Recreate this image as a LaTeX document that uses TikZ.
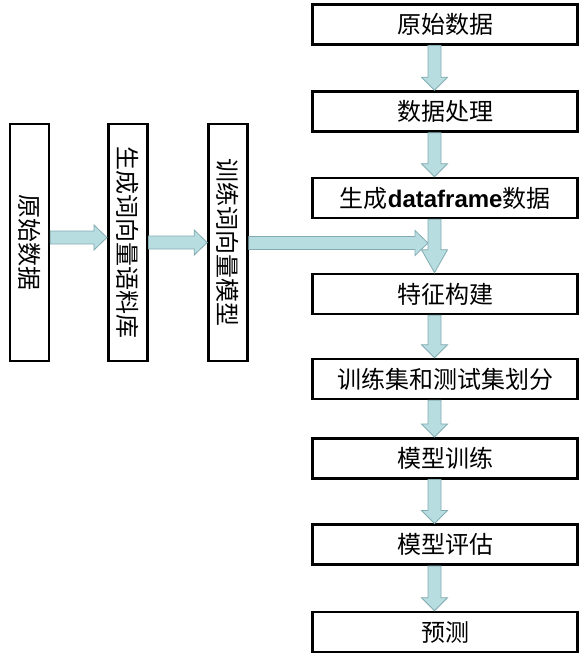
\documentclass[tikz,border=0pt]{standalone}
\usepackage{fontspec}
\setmainfont{Noto Sans CJK SC}
\newfontfamily\latinbold{Liberation Sans}
\usetikzlibrary{calc}
\definecolor{arrowfill}{RGB}{183,221,224}
\definecolor{arrowedge}{RGB}{130,172,178}

% vertical block arrow from the bottom of #1 to the top of #2, head length #3
\newcommand\vblock[3]{%
  \coordinate (vs) at (#1.south -| spine);
  \coordinate (ve) at (#2.north -| spine);
  \draw[blockarrow] ($(vs)+(-6.5,0)$) -- ($(vs)+(6.5,0)$) -- ($(ve)+(6.5,-#3)$)
    -- ($(ve)+(13,-#3)$) -- (ve) -- ($(ve)+(-13,-#3)$) -- ($(ve)+(-6.5,-#3)$) -- cycle;
}
% horizontal block arrow between two named points
\newcommand\hblock[2]{%
  \draw[blockarrow] ($(#1)+(0,-6.5)$) -- ($(#2)+(-13,-6.5)$) -- ($(#2)+(-13,-12.5)$)
    -- (#2) -- ($(#2)+(-13,12.5)$) -- ($(#2)+(-13,6.5)$) -- ($(#1)+(0,6.5)$) -- cycle;
}

\tikzset{
  flowbox/.style={draw=black, line width=2.6pt, fill=white, minimum width=265pt,
    minimum height=40pt, inner sep=0pt, font=\fontsize{24pt}{28pt}\selectfont},
  sidebox/.style={draw=black, line width=2.6pt, fill=white, minimum height=39pt,
    minimum width=237pt, inner sep=0pt, rotate=-90,
    font=\fontsize{24pt}{28pt}\selectfont},
  blockarrow/.style={fill=arrowfill, draw=arrowedge, line width=0.8pt, line join=miter}
}

\begin{document}
\begin{tikzpicture}[x=1pt, y=-1pt]
\useasboundingbox (0,0) rectangle (587,659);

% main processing chain
\node[flowbox] (raw)   at (445.25,24.25)  {原始数据};
\node[flowbox] (prep)  at (445.25,111.5)  {数据处理};
\node[flowbox] (df)    at (445.25,198)    {生成{\latinbold\bfseries dataframe}数据};
\node[flowbox] (feat)  at (445.25,294)    {特征构建};
\node[flowbox] (split) at (445.25,379)    {训练集和测试集划分};
\node[flowbox] (train) at (445.25,458.25) {模型训练};
\node[flowbox] (eval)  at (445.25,544.75) {模型评估};
\node[flowbox] (pred)  at (445.25,632)    {预测};

% word-vector branch (rotated boxes: north is the right side, south the left)
\node[sidebox] (wraw)    at (29.5,242.5)  {原始数据};
\node[sidebox] (corpus)  at (127.75,242.5) {生成词向量语料库};
\node[sidebox] (w2v)     at (228,242.5)   {训练词向量模型};

\coordinate (spine) at (434.5,0);
\coordinate (ya) at (0,237.5);
\coordinate (yb) at (0,242.5);
\coordinate (yc) at (0,243);

% branch arrows
\coordinate (a1) at (wraw.north |- ya);
\coordinate (a2) at (corpus.south |- ya);
\hblock{a1}{a2}
\coordinate (b1) at (corpus.north |- yb);
\coordinate (b2) at (w2v.south |- yb);
\hblock{b1}{b2}
\coordinate (c1) at (w2v.north |- yc);
\coordinate (join) at (428,243);
\hblock{c1}{join}

% chain arrows
\vblock{raw}{prep}{13}
\vblock{prep}{df}{13}
\vblock{df}{feat}{23}
\vblock{feat}{split}{13}
\vblock{split}{train}{13}
\vblock{train}{eval}{13}
\vblock{eval}{pred}{13}
\end{tikzpicture}
\end{document}
